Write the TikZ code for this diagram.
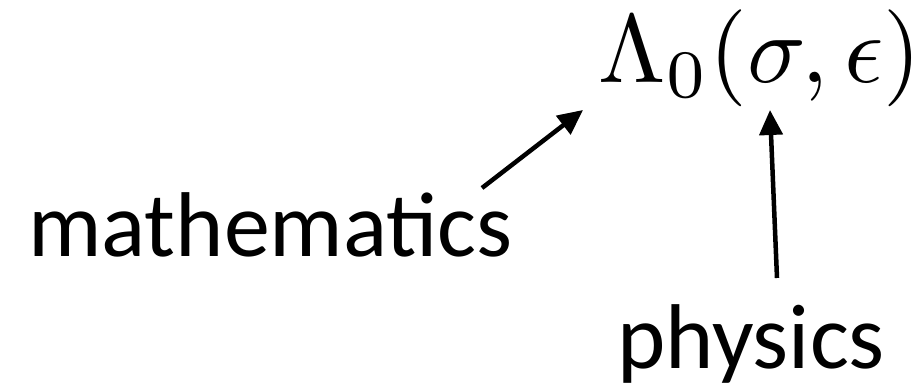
\documentclass[tikz,border=0pt]{standalone}
\usepackage{fontspec}
\setmainfont{Carlito}
\usetikzlibrary{arrows.meta}
\tikzset{
  lbl/.style={inner sep=0pt, anchor=base west, font=\fontsize{92}{100}\selectfont},
  formula/.style={inner sep=0pt, anchor=base west, scale=9.7},
  arr/.style={line width=4.5pt, -{Triangle[length=25pt,width=23pt]}}
}
\begin{document}
\begin{tikzpicture}[x=1pt,y=1pt]
\useasboundingbox (0,0) rectangle (921,388);
\node[formula] (f) at (597,305) {$\Lambda_0(\sigma,\epsilon)$};
\node[lbl] (m) at (28,131) {mathematics};
\node[lbl] (p) at (617,19) {physics};
\coordinate (ms) at (482,200);
\coordinate (mt) at (583,278);
\coordinate (ps) at (777,110);
\coordinate (pt) at (770,278);
\draw[arr] (ms) -- (mt);
\draw[arr] (ps) -- (pt);
\end{tikzpicture}
\end{document}
